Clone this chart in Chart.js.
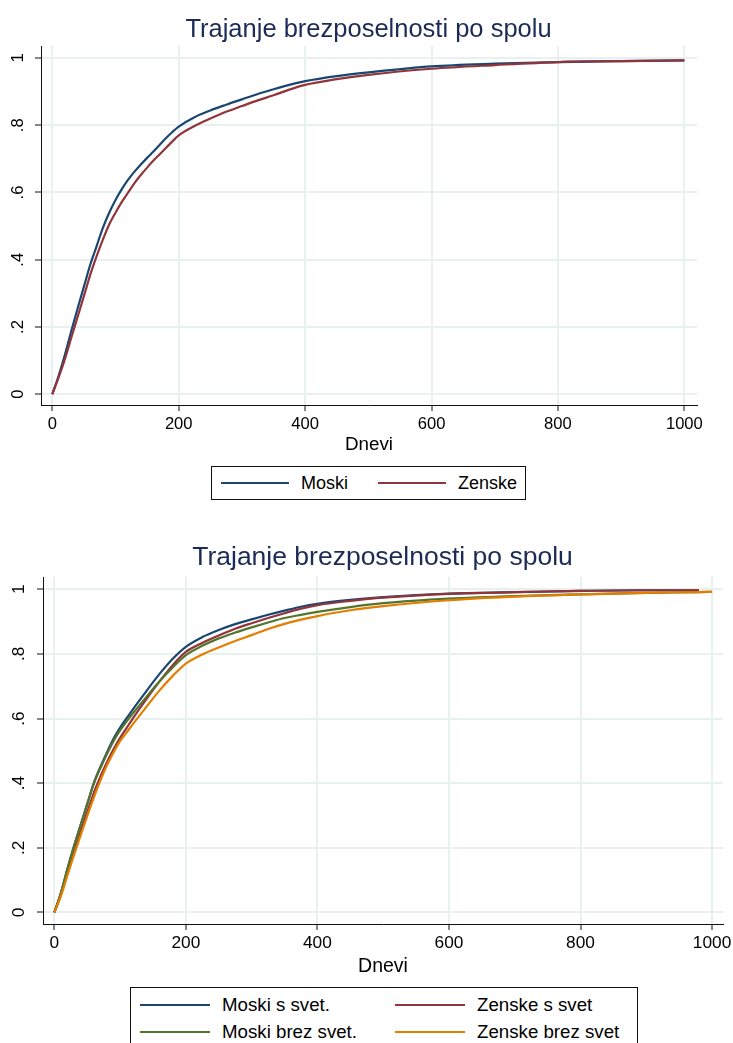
<!DOCTYPE html>
<html>
<head>
<meta charset="utf-8">
<title>Trajanje brezposelnosti po spolu</title>
<script src="https://cdn.jsdelivr.net/npm/chart.js@4.4.1/dist/chart.umd.min.js"></script>
<style>
  body { margin: 0; background: #fff; width: 733px; height: 1043px; overflow: hidden; position: relative;
         font-family: 'Liberation Sans', Arial, sans-serif; }
  canvas { position: absolute; left: 0; }
  #graf1 { top: 0; }
  #graf2 { top: 530px; }
  .legend { position: absolute; border: 1px solid #111; box-sizing: border-box; color: #000; }
  .legend .swatch { position: absolute; height: 2px; }
  .legend .item { position: absolute; white-space: nowrap; line-height: 24px; }
</style>
</head>
<body>
<canvas id="graf1" width="733" height="460"></canvas>
<canvas id="graf2" width="733" height="455"></canvas>
<script>
const naslov = 'Trajanje brezposelnosti po spolu';
const xTicks = [0, 200, 400, 600, 800, 1000];
const yTicks = [0, 0.2, 0.4, 0.6, 0.8, 1];
const yTickLabels = ['0', '.2', '.4', '.6', '.8', '1'];

// graf 1: po spolu
const dnevi1 = [0, 10, 20, 30, 40, 50, 60, 70, 80, 90, 100, 110, 120, 130, 140, 150, 160, 170, 180, 190, 200, 225, 250, 275, 300, 325, 350, 375, 400, 450, 500, 600, 700, 800, 900, 1000];
const moski = [0, .055, .118, .188, .255, .32, .385, .44, .495, .54, .578, .61, .638, .662, .683, .703, .722, .742, .762, .78, .796, .824, .844, .861, .877, .893, .907, .92, .931, .946, .957, .975, .983, .988, .991, .993];
const zenske = [0, .05, .105, .168, .23, .292, .355, .41, .46, .505, .54, .572, .6, .628, .652, .674, .695, .714, .733, .752, .77, .798, .82, .84, .857, .874, .889, .906, .92, .937, .95, .968, .979, .988, .991, .993];

// graf 2: po spolu in svetovanju
const dnevi2 = [0, 10, 20, 30, 40, 50, 60, 70, 80, 90, 100, 110, 120, 140, 160, 180, 200, 225, 250, 275, 300, 325, 350, 375, 400, 450, 500, 600, 700, 800, 900, 980, 1000];
const moskiSvet = [0, .06, .135, .205, .27, .335, .4, .45, .495, .537, .572, .601, .63, .685, .738, .785, .822, .852, .874, .892, .907, .921, .934, .946, .955, .967, .976, .987, .991, .995, .997, .997, null];
const zenskeSvet = [0, .055, .125, .19, .25, .31, .37, .42, .465, .505, .54, .571, .602, .66, .715, .765, .806, .834, .857, .878, .895, .911, .926, .94, .951, .964, .974, .986, .991, .995, .997, .997, null];
const moskiBrez = [0, .06, .135, .205, .27, .335, .398, .446, .49, .53, .563, .591, .617, .667, .715, .758, .796, .825, .848, .866, .882, .897, .911, .921, .93, .945, .957, .971, .979, .984, .989, .991, .992];
const zenskeBrez = [0, .05, .115, .178, .238, .298, .355, .408, .455, .495, .53, .557, .584, .636, .687, .732, .77, .798, .82, .84, .858, .877, .893, .906, .917, .935, .948, .966, .977, .984, .989, .991, .992];

const NAVY = '#1a476f', MAROON = '#90353b', GREEN = '#55752f', ORANGE = '#e37e00';
const FONT = "'Liberation Sans', Arial, sans-serif";
const GRID = '#e8f0f0';

function points(days, vals) {
  return vals.map((v, i) => ({ x: days[i], y: v })).filter(p => p.y !== null);
}

// y labels are drawn vertically, reading bottom to top
const yLabels = {
  id: 'yLabels',
  afterDraw(chart, args, opts) {
    const { ctx } = chart;
    const y = chart.scales.y;
    ctx.save();
    ctx.fillStyle = '#000';
    ctx.font = opts.size + 'px ' + FONT;
    ctx.textAlign = 'center';
    ctx.textBaseline = 'middle';
    yTicks.forEach((v, i) => {
      ctx.save();
      ctx.translate(opts.x, y.getPixelForValue(v));
      ctx.rotate(-Math.PI / 2);
      ctx.fillText(yTickLabels[i], 0, 0);
      ctx.restore();
    });
    ctx.restore();
  }
};

function stataChart(id, o) {
  const n = o.series.length;
  return new Chart(document.getElementById(id), {
    type: 'line',
    data: {
      datasets: o.series.map((s, i) => ({
        label: s.label,
        data: points(o.days, s.values),
        borderColor: s.color,
        borderWidth: 2.2,
        pointRadius: 0,
        cubicInterpolationMode: 'monotone',
        fill: false,
        order: n - i
      }))
    },
    plugins: [yLabels],
    options: {
      responsive: false,
      animation: false,
      events: [],
      layout: { padding: { left: o.area.left - 1, right: 733 - o.area.right, top: 0, bottom: 0 } },
      plugins: {
        legend: { display: false },
        tooltip: { enabled: false },
        yLabels: { x: o.yLabelX, size: o.tickSize },
        title: {
          display: true, text: naslov, color: '#1c2b55',
          font: { family: FONT, size: o.titleSize, weight: 'normal', lineHeight: 1.2 },
          padding: { top: o.titleTop, bottom: o.area.top - o.titleTop - o.titleSize * 1.2 }
        }
      },
      scales: {
        x: {
          type: 'linear', min: o.xMin, max: o.xMax,
          afterBuildTicks: s => { s.ticks = xTicks.map(v => ({ value: v })); },
          afterFit: s => { s.height = o.height - o.area.bottom; s.paddingLeft = 0; s.paddingRight = 0; },
          grid: { color: GRID, lineWidth: 2, tickColor: '#111', tickWidth: 1, tickLength: 6 },
          border: { color: '#111', width: 1 },
          ticks: {
            color: '#000', font: { family: FONT, size: o.tickSize }, padding: o.xTickPad,
            maxRotation: 0, autoSkip: false, callback: v => String(v)
          },
          title: {
            display: true, text: 'Dnevi', color: '#000',
            font: { family: FONT, size: o.axisSize }, padding: { top: 0, bottom: o.axisPad }
          }
        },
        y: {
          type: 'linear', min: o.yMin, max: o.yMax,
          afterBuildTicks: s => { s.ticks = yTicks.map(v => ({ value: v })); },
          afterFit: s => { s.width = 1; s.paddingTop = 0; s.paddingBottom = 0; },
          grid: { color: GRID, lineWidth: 2, tickColor: '#111', tickWidth: 1, tickLength: 6 },
          border: { color: '#111', width: 1 },
          ticks: { display: false }
        }
      }
    }
  });
}

function buildLegend(chart, box) {
  const el = document.createElement('div');
  el.className = 'legend';
  Object.assign(el.style, {
    left: box.left + 'px', top: box.top + 'px', width: box.width + 'px',
    height: box.height + 'px', fontSize: box.fontSize + 'px'
  });
  chart.data.datasets.forEach((ds, i) => {
    const x = box.colX[i % box.cols];
    const y = box.rowY[Math.floor(i / box.cols)];
    const line = document.createElement('div');
    line.className = 'swatch';
    Object.assign(line.style, { left: x + 'px', top: (y - 1) + 'px', width: box.lineW + 'px', background: ds.borderColor });
    const txt = document.createElement('div');
    txt.className = 'item';
    txt.textContent = ds.label;
    Object.assign(txt.style, { left: (x + box.lineW + 12) + 'px', top: (y - 12) + 'px' });
    el.append(line, txt);
  });
  document.body.appendChild(el);
}

const graf1 = stataChart('graf1', {
  height: 460,
  area: { left: 41, right: 697, top: 46, bottom: 405 },
  xMin: -17.9, xMax: 1020, yMin: -0.032, yMax: 1.0357,
  titleSize: 25.5, titleTop: 14.7, tickSize: 16.6, axisSize: 18.8, axisPad: 3.7,
  xTickPad: 3, yLabelX: 18,
  days: dnevi1,
  series: [
    { label: 'Moski', values: moski, color: NAVY },
    { label: 'Zenske', values: zenske, color: MAROON }
  ]
});

const graf2 = stataChart('graf2', {
  height: 455,
  area: { left: 43, right: 723, top: 47, bottom: 394 },
  xMin: -17.2, xMax: 1016.6, yMin: -0.036, yMax: 1.038,
  titleSize: 26.5, titleTop: 12.1, tickSize: 17.3, axisSize: 19.5, axisPad: 6.3,
  xTickPad: 2.6, yLabelX: 19,
  days: dnevi2,
  series: [
    { label: 'Moski s svet.', values: moskiSvet, color: NAVY },
    { label: 'Zenske s svet', values: zenskeSvet, color: MAROON },
    { label: 'Moski brez svet.', values: moskiBrez, color: GREEN },
    { label: 'Zenske brez svet', values: zenskeBrez, color: ORANGE }
  ]
});

buildLegend(graf1, { left: 211, top: 466, width: 315, height: 34, fontSize: 18, cols: 2, colX: [9, 166], rowY: [16], lineW: 68 });
buildLegend(graf2, { left: 130, top: 987, width: 508, height: 80, fontSize: 18.7, cols: 2, colX: [9, 264], rowY: [17, 44], lineW: 70 });
</script>
</body>
</html>
